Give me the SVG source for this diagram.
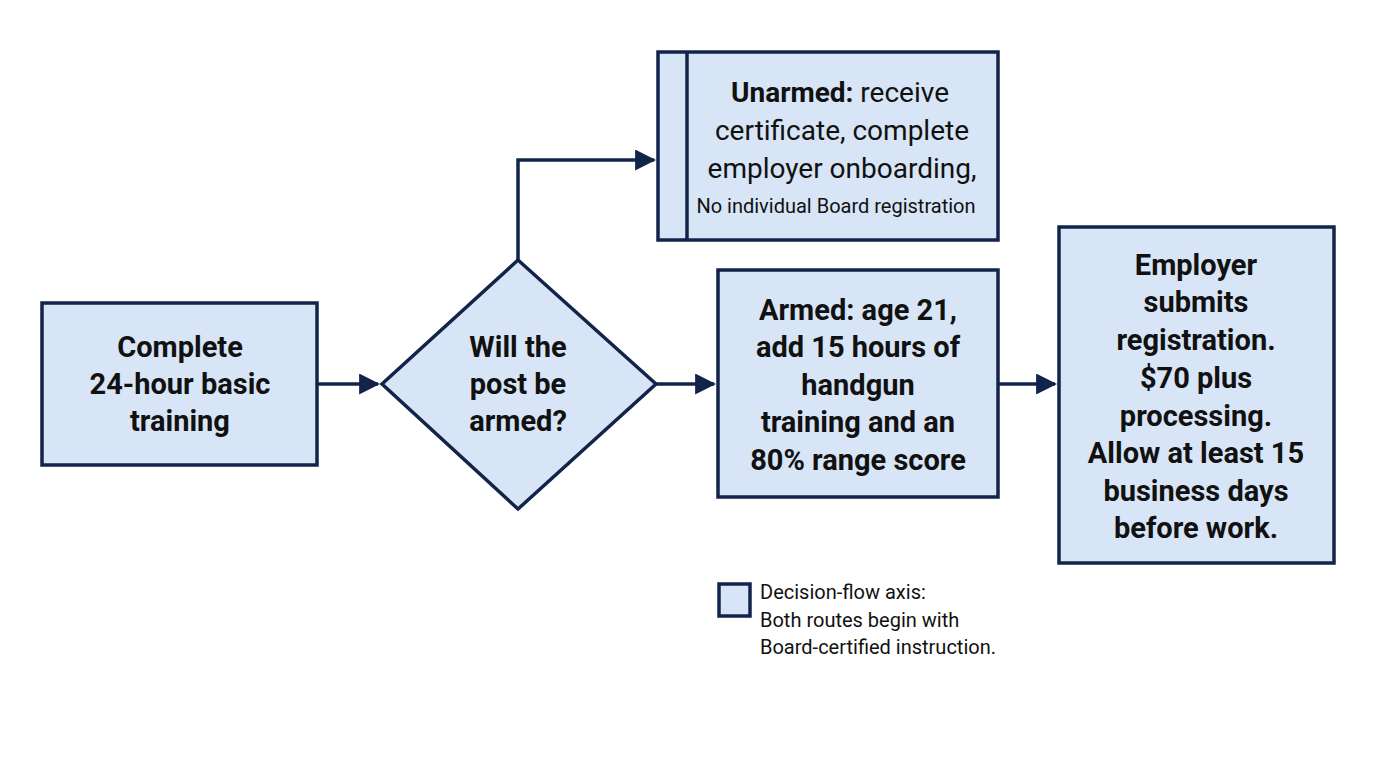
<svg xmlns="http://www.w3.org/2000/svg" width="1376" height="768" viewBox="0 0 1376 768">
<style>
.n{fill:#d7e5f6;stroke:#13244a;stroke-width:3.5}
.t{font-family:Roboto,"Liberation Sans",sans-serif;font-weight:bold;font-size:29px;fill:#111;text-anchor:middle;dominant-baseline:central}
.r{font-family:Roboto,"Liberation Sans",sans-serif;font-size:28px;fill:#111;text-anchor:middle;dominant-baseline:central}
.s{font-family:Roboto,"Liberation Sans",sans-serif;font-size:20px;fill:#111;dominant-baseline:central}
.c{fill:none;stroke:#13244a;stroke-width:3.5}
</style>
<defs><marker id="a" viewBox="0 0 10 10" refX="9" refY="5" markerWidth="6" markerHeight="6" markerUnits="userSpaceOnUse" orient="auto"><path d="M0,0L10,5L0,10z" fill="#13244a"/></marker>
<marker id="b" viewBox="0 0 10 10" refX="9" refY="5" markerWidth="6" markerHeight="6" orient="auto"><path d="M0,0L10,5L0,10z" fill="#13244a"/></marker></defs>
<rect width="1376" height="768" fill="#fff"/>
<g id="connectors">
<path class="c" d="M317,384H378" marker-end="url(#b)"/>
<path class="c" d="M656,384H714" marker-end="url(#b)"/>
<path class="c" d="M998,384H1055" marker-end="url(#b)"/>
<path class="c" d="M518,260V160H654" marker-end="url(#b)"/>
</g>
<g id="start"><rect class="n" x="42" y="303" width="275" height="162"/>
<text class="t" x="180" y="347">Complete</text><text class="t" x="180" y="384">24-hour basic</text><text class="t" x="180" y="421">training</text></g>
<g id="decision"><polygon class="n" points="518,260 656,384 518,509 382,384"/>
<text class="t" x="518" y="347">Will the</text><text class="t" x="518" y="384">post be</text><text class="t" x="518" y="421">armed?</text></g>
<g id="unarmed"><rect class="n" x="658" y="52" width="340" height="188"/><line class="c" x1="687" y1="52" x2="687" y2="240"/>
<text class="r" x="840" y="92"><tspan font-weight="bold">Unarmed:</tspan> receive</text><text class="r" x="842" y="130">certificate, complete</text><text class="r" x="842" y="168">employer onboarding,</text><text class="s" x="836" y="206" text-anchor="middle">No individual Board registration</text></g>
<g id="armed"><rect class="n" x="718" y="270" width="280" height="227"/>
<text class="t" x="858" y="310">Armed: age 21,</text><text class="t" x="858" y="347">add 15 hours of</text><text class="t" x="858" y="385">handgun</text><text class="t" x="858" y="422">training and an</text><text class="t" x="858" y="460">80% range score</text></g>
<g id="employer"><rect class="n" x="1059" y="227" width="275" height="336"/>
<text class="t" x="1196" y="265">Employer</text><text class="t" x="1196" y="302">submits</text><text class="t" x="1196" y="340">registration.</text><text class="t" x="1196" y="378">$70 plus</text><text class="t" x="1196" y="416">processing.</text><text class="t" x="1196" y="453">Allow at least 15</text><text class="t" x="1196" y="491">business days</text><text class="t" x="1196" y="528">before work.</text></g>
<g id="legend"><rect class="n" x="719" y="584" width="31" height="32"/>
<text class="s" x="760" y="592">Decision-flow axis:</text><text class="s" x="760" y="620">Both routes begin with</text><text class="s" x="760" y="647">Board-certified instruction.</text></g>
</svg>
